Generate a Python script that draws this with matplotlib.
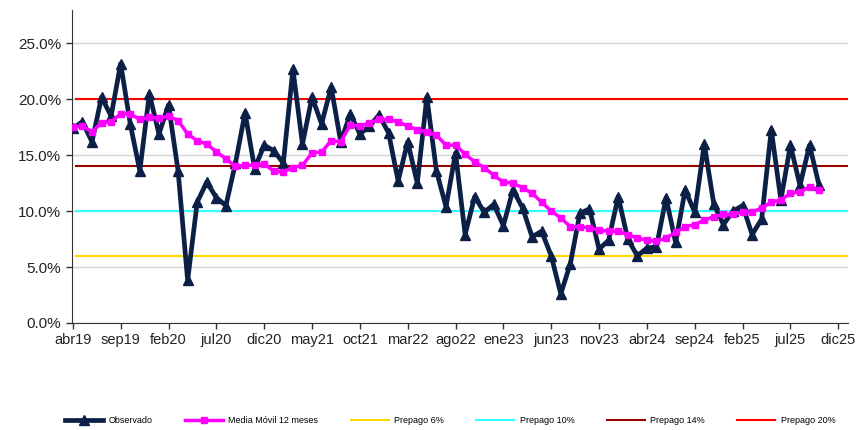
import numpy as np
import matplotlib.pyplot as plt

plt.rcParams['font.family'] = ['Liberation Sans', 'DejaVu Sans']

# datos mensuales abr19 .. oct25 (%)
observado = [17.4, 18.0, 16.2, 20.2, 18.5, 23.2, 17.8, 13.6, 20.5, 16.9,
             19.5, 13.6, 3.8, 10.8, 12.6, 11.2, 10.5, 14.3, 18.8, 13.8,
             15.9, 15.4, 14.3, 22.7, 16.0, 20.2, 17.8, 21.1, 16.2, 18.7,
             16.9, 17.6, 18.6, 17.0, 12.7, 16.2, 12.5, 20.2, 13.6, 10.4,
             15.2, 7.9, 11.3, 9.9, 10.6, 8.7, 11.9, 10.3, 7.7, 8.2,
             6.0, 2.6, 5.3, 9.8, 10.2, 6.6, 7.4, 11.3, 7.5, 6.0,
             6.7, 6.8, 11.2, 7.2, 11.9, 9.9, 16.0, 10.6, 8.8, 10.0,
             10.5, 7.9, 9.3, 17.3, 11.0, 15.9, 12.3, 15.9, 12.3]

media_movil = [17.5, 17.6, 17.1, 17.9, 18.0, 18.7, 18.7, 18.2, 18.4, 18.3,
               18.5, 18.1, 16.9, 16.3, 16.0, 15.3, 14.7, 14.0, 14.1, 14.1,
               14.2, 13.6, 13.5, 13.9, 14.1, 15.2, 15.3, 16.3, 16.2, 17.7,
               17.6, 17.9, 18.2, 18.2, 18.0, 17.6, 17.3, 17.1, 16.8, 15.9,
               15.9, 15.1, 14.4, 13.9, 13.2, 12.6, 12.5, 12.1, 11.6, 10.8,
               10.0, 9.4, 8.6, 8.6, 8.5, 8.3, 8.2, 8.2, 7.9, 7.6,
               7.4, 7.3, 7.6, 8.1, 8.6, 8.8, 9.2, 9.5, 9.7, 9.7,
               9.9, 9.9, 10.3, 10.8, 11.0, 11.6, 11.7, 12.2, 11.9]

prepago = [6, 10, 14, 20]
prepago_colors = ['#FFD700', '#33FFFF', '#990000', '#FF0000']

tick_labels = ['abr19', 'sep19', 'feb20', 'jul20', 'dic20', 'may21', 'oct21',
               'mar22', 'ago22', 'ene23', 'jun23', 'nov23', 'abr24', 'sep24',
               'feb25', 'jul25', 'dic25']

x = np.arange(len(observado))

fig = plt.figure(figsize=(8.66, 4.30), dpi=100)
ax = fig.add_axes([0.083, 0.249, 0.896, 0.728])

for v in range(0, 30, 5):
    ax.axhline(v, color='#D3D3D3', lw=1, zorder=0)

for v, c in zip(prepago, prepago_colors):
    ax.axhline(v, xmin=0.005, color=c, lw=1.5, zorder=1,
               label='Prepago %d%%' % v)

ax.plot(x, observado, color='#0C1F47', lw=3.4, marker='^', ms=7,
        mfc='#0C1F47', mec='#0C1F47', zorder=3, label='Observado')
ax.plot(x, media_movil, color='#FF00FF', lw=2.5, marker='s', ms=4.5,
        mfc='#FF00FF', mec='#FF00FF', zorder=4, label='Media Móvil 12 meses')

ax.set_ylim(0, 28)
ax.set_yticks(range(0, 30, 5))
ax.set_yticklabels(['%.1f%%' % v for v in range(0, 30, 5)], fontsize=11,
                   color='#222222')
ax.set_xlim(-0.1, 81)
ax.set_xticks(np.arange(0, 5 * len(tick_labels), 5))
ax.set_xticklabels(tick_labels, fontsize=10.5, color='#222222')
ax.tick_params(axis='both', direction='out', length=4, width=1,
               color='#333333')
ax.tick_params(axis='x', pad=3)

for s in ['top', 'right']:
    ax.spines[s].set_visible(False)
for s in ['left', 'bottom']:
    ax.spines[s].set_color('#333333')

h, l = ax.get_legend_handles_labels()
order = [4, 5, 0, 1, 2, 3]
fig.legend([h[i] for i in order], [l[i] for i in order], loc='center',
           bbox_to_anchor=(0.52, 0.022), ncol=6, frameon=False,
           fontsize=6.5, handlelength=4.2, columnspacing=3.6,
           handletextpad=0.6)

fig.savefig('out.png', dpi=100)
